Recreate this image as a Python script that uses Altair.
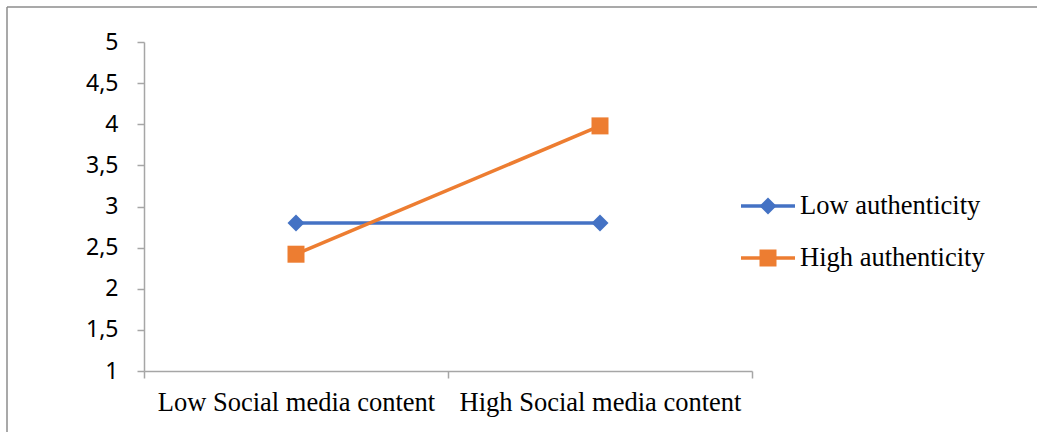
import altair as alt
import pandas as pd

categories = ["Low Social media content", "High Social media content"]
series_names = ["Low authenticity", "High authenticity"]
low_auth = [2.8, 2.8]
high_auth = [2.42, 3.98]
colors = ["#4472C4", "#ED7D31"]
shapes = ["diamond", "square"]

rows = []
for c, v in zip(categories, low_auth):
    rows.append({"cat": c, "series": series_names[0], "value": v})
for c, v in zip(categories, high_auth):
    rows.append({"cat": c, "series": series_names[1], "value": v})
df = pd.DataFrame(rows)

W, H = 608, 329
axis_gray = "#A6A6A6"
serif_size = 26.5

x_enc = alt.X("cat:N", sort=categories, title=None,
              scale=alt.Scale(paddingInner=0, paddingOuter=0),
              axis=alt.Axis(labelAngle=0, tickBand="extent", domainColor=axis_gray,
                            tickColor=axis_gray, domainWidth=1.5, tickWidth=1.5,
                            tickSize=7, labelPadding=11, labelFont="Liberation Serif",
                            labelFontSize=serif_size, labelColor="#000000", labelLimit=0,
                            grid=False))
y_enc = alt.Y("value:Q", title=None,
              scale=alt.Scale(domain=[1, 5], nice=False, zero=False),
              axis=alt.Axis(values=[1, 1.5, 2, 2.5, 3, 3.5, 4, 4.5, 5],
                            labelExpr="replace(toString(datum.value), '.', ',')",
                            domainColor=axis_gray, tickColor=axis_gray,
                            domainWidth=1.5, tickWidth=1.5, tickSize=7,
                            labelPadding=19, labelFont="Noto Sans",
                            labelFontSize=23, labelColor="#000000", grid=False))
color_enc = alt.Color("series:N", scale=alt.Scale(domain=series_names, range=colors), legend=None)
shape_enc = alt.Shape("series:N", scale=alt.Scale(domain=series_names, range=shapes), legend=None)

base = alt.Chart(df)
lines = base.mark_line(strokeWidth=3.5).encode(x=x_enc, y=y_enc, color=color_enc)
points = base.mark_point(filled=True, size=289, opacity=1).encode(
    x=x_enc, y=y_enc, color=color_enc, shape=shape_enc)

# outer frame (top and left edges)
frame_top = alt.Chart(pd.DataFrame({"a": [0]})).mark_rule(color="#8C8C8C", strokeWidth=1.5).encode(
    x=alt.value(-137), x2=alt.value(900), y=alt.value(-35))
frame_left = alt.Chart(pd.DataFrame({"a": [0]})).mark_rule(color="#8C8C8C", strokeWidth=1.5).encode(
    x=alt.value(-137), y=alt.value(-35), y2=alt.value(400))

# manual legend
legend_layers = []
row_y = [164, 216]
for i, name in enumerate(series_names):
    ld = pd.DataFrame({"label": [name]})
    legend_layers.append(alt.Chart(ld).mark_rule(color=colors[i], strokeWidth=3.5).encode(
        x=alt.value(597), x2=alt.value(651), y=alt.value(row_y[i])))
    legend_layers.append(alt.Chart(ld).mark_point(filled=True, size=289, opacity=1,
                                                  shape=shapes[i], color=colors[i]).encode(
        x=alt.value(624), y=alt.value(row_y[i])))
    legend_layers.append(alt.Chart(ld).mark_text(align="left", baseline="middle",
                                                 font="Liberation Serif", fontSize=serif_size,
                                                 color="#000000").encode(
        text="label:N", x=alt.value(656), y=alt.value(row_y[i])))

chart = alt.layer(frame_top, frame_left, lines, points, *legend_layers).properties(
    width=W, height=H,
    padding={"left": 144, "top": 42, "right": 285, "bottom": 61},
    autosize=alt.AutoSizeParams(type="none"),
    background="white",
).configure_view(stroke=None)

chart.save("out.html", embed_options={"renderer": "svg", "actions": False})
